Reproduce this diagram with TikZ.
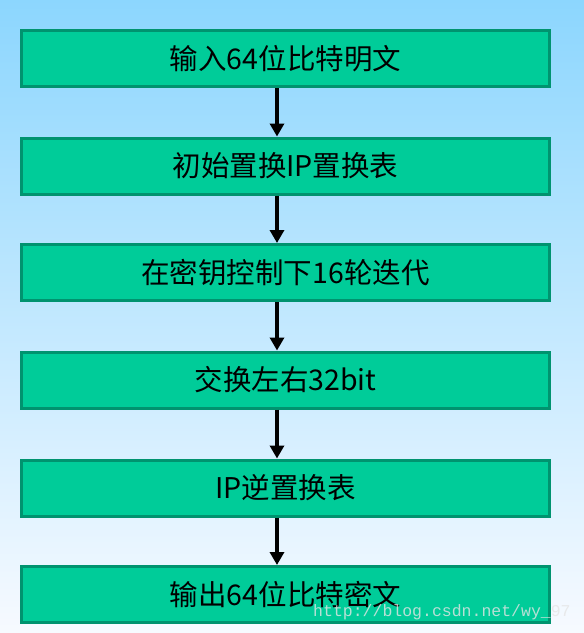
\documentclass[tikz,border=0pt]{standalone}
\usepackage{fontspec}
\newfontfamily\cjk{Noto Sans CJK SC}
\newfontfamily\wmfont{Liberation Mono}
\usetikzlibrary{arrows.meta}
\definecolor{boxfill}{HTML}{00CC99}
\definecolor{boxline}{HTML}{00936F}
\definecolor{bgtop}{HTML}{8CD6FE}
\definecolor{bgbot}{HTML}{F7FAFF}
\tikzset{
  stepbox/.style={draw=boxline, line width=3pt, fill=boxfill, minimum width=528pt, minimum height=56pt, inner sep=0pt, font=\cjk\fontsize{28.5}{28.5}\selectfont, text=black},
  flow/.style={line width=4pt, -{Triangle[length=13pt,width=14pt]}},
}
\begin{document}
\begin{tikzpicture}[x=1pt,y=-1pt]
\shade[top color=bgtop, bottom color=bgbot] (0,0) rectangle (584,633);
\useasboundingbox (0,0) rectangle (584,633);
\node[stepbox] (b1) at (285.5,58.5) {输入64位比特明文};
\node[stepbox] (b2) at (285.5,166) {初始置换IP置换表};
\node[stepbox] (b3) at (285.5,272.5) {在密钥控制下16轮迭代};
\node[stepbox] (b4) at (285.5,380) {交换左右32bit};
\node[stepbox] (b5) at (285.5,488) {IP逆置换表};
\node[stepbox] (b6) at (285.5,594.5) {输出64位比特密文};
\coordinate (ax) at (277,0);
\draw[flow] (b1.south -| ax) -- (b2.north -| ax);
\draw[flow] (b2.south -| ax) -- (b3.north -| ax);
\draw[flow] (b3.south -| ax) -- (b4.north -| ax);
\draw[flow] (b4.south -| ax) -- (b5.north -| ax);
\draw[flow] (b5.south -| ax) -- (b6.north -| ax);
\node[anchor=west, inner sep=0pt, text=white!80!gray, opacity=0.8, font=\wmfont\fontsize{16.5}{16.5}\selectfont] (wm) at (313,612) {http://blog.csdn.net/wy\_97};
\end{tikzpicture}
\end{document}
